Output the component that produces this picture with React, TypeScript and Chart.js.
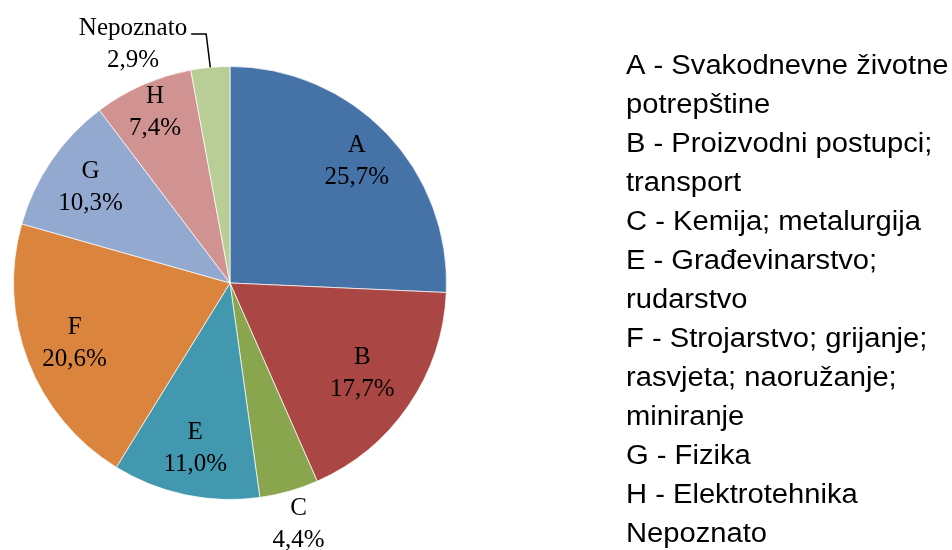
import React, { useEffect, useRef } from "react";
import { Chart, registerables } from "chart.js";

Chart.register(...registerables);

const shortLabels = ["A", "B", "C", "E", "F", "G", "H", "Nepoznato"];
const values = [25.7, 17.7, 4.4, 11.0, 20.6, 10.3, 7.4, 2.9];
const legendNames = [
  "A - Svakodnevne životne\npotrepštine",
  "B - Proizvodni postupci;\ntransport",
  "C - Kemija; metalurgija",
  "E - Građevinarstvo;\nrudarstvo",
  "F - Strojarstvo; grijanje;\nrasvjeta; naoružanje;\nminiranje",
  "G - Fizika",
  "H - Elektrotehnika",
  "Nepoznato",
];
const colors = ["#4572A7", "#AA4643", "#89A54E", "#4198AF", "#DB843D", "#93A9CF", "#D19392", "#B9CD96"];
// radial position of each label as fraction of radius; leader = outside label with a callout line
const labelRadius = [0.81, 0.74, 1.16, 0.78, 0.77, 0.78, 0.86, 1.16];
const labelLeader = [false, false, false, false, false, false, false, true];

const fmt = (v: number) => v.toFixed(1).replace(".", ",") + "%";

const labelPlugin = {
  id: "sliceLabels",
  afterDraw(chart: any) {
    const ctx = chart.ctx;
    const meta = chart.getDatasetMeta(0);
    ctx.save();
    ctx.font = "25px 'Liberation Serif', 'Times New Roman', serif";
    ctx.fillStyle = "#000";
    ctx.textAlign = "center";
    ctx.textBaseline = "middle";
    const half = 16;
    meta.data.forEach((arc: any, i: number) => {
      const { x, y, startAngle, endAngle, outerRadius } = arc.getProps(
        ["x", "y", "startAngle", "endAngle", "outerRadius"],
        true
      );
      const mid = (startAngle + endAngle) / 2;
      const lines = [shortLabels[i], fmt(values[i])];
      const r = outerRadius * labelRadius[i];
      if (labelLeader[i]) {
        const ax = x + Math.cos(mid) * outerRadius;
        const ay = y + Math.sin(mid) * outerRadius;
        const ex = x + Math.cos(mid) * r - 1;
        const ey = y + Math.sin(mid) * r + 1;
        const hx = ex - 15;
        ctx.strokeStyle = "#000";
        ctx.lineWidth = 1.5;
        ctx.beginPath();
        ctx.moveTo(ax, ay);
        ctx.lineTo(ex, ey);
        ctx.lineTo(hx, ey);
        ctx.stroke();
        const w = Math.max(...lines.map((l) => ctx.measureText(l).width));
        const cx = hx - 4 - w / 2;
        const cy = ey + 11;
        ctx.fillText(lines[0], cx, cy - half);
        ctx.fillText(lines[1], cx, cy + half);
      } else {
        const cx = x + Math.cos(mid) * r;
        const cy = y + Math.sin(mid) * r;
        ctx.fillText(lines[0], cx, cy - half);
        ctx.fillText(lines[1], cx, cy + half);
      }
    });
    ctx.restore();
  },
};

const legendPlugin = {
  id: "textLegend",
  afterDraw(chart: any) {
    const ctx = chart.ctx;
    ctx.save();
    ctx.font = "27px 'Liberation Sans', Arial, sans-serif";
    ctx.fillStyle = "#000";
    ctx.textAlign = "left";
    ctx.textBaseline = "alphabetic";
    const x0 = 626;
    let baseline = 74;
    const step = 39;
    legendNames.forEach((name) => {
      name.split("\n").forEach((line) => {
        ctx.save();
        ctx.translate(x0, baseline);
        ctx.scale(1.08, 1);
        ctx.fillText(line, 0, 0);
        ctx.restore();
        baseline += step;
      });
    });
    ctx.restore();
  },
};

export default function App() {
  const ref = useRef<HTMLCanvasElement | null>(null);
  useEffect(() => {
    if (!ref.current) return;
    const chart = new Chart(ref.current, {
      type: "pie",
      data: {
        labels: shortLabels,
        datasets: [
          {
            data: values,
            backgroundColor: colors,
            borderColor: "rgba(255,255,255,0.7)",
            borderWidth: 1,
          },
        ],
      },
      options: {
        responsive: false,
        animation: false,
        layout: { padding: { left: 13, right: 505, top: 66, bottom: 50 } },
        plugins: {
          legend: { display: false },
          tooltip: { enabled: false },
        },
      },
      plugins: [labelPlugin, legendPlugin],
    });
    return () => chart.destroy();
  }, []);
  return (
    <div style={{ position: "absolute", left: 0, top: 0, width: 952, height: 550, background: "#fff" }}>
      <canvas ref={ref} width={952} height={550} />
    </div>
  );
}
